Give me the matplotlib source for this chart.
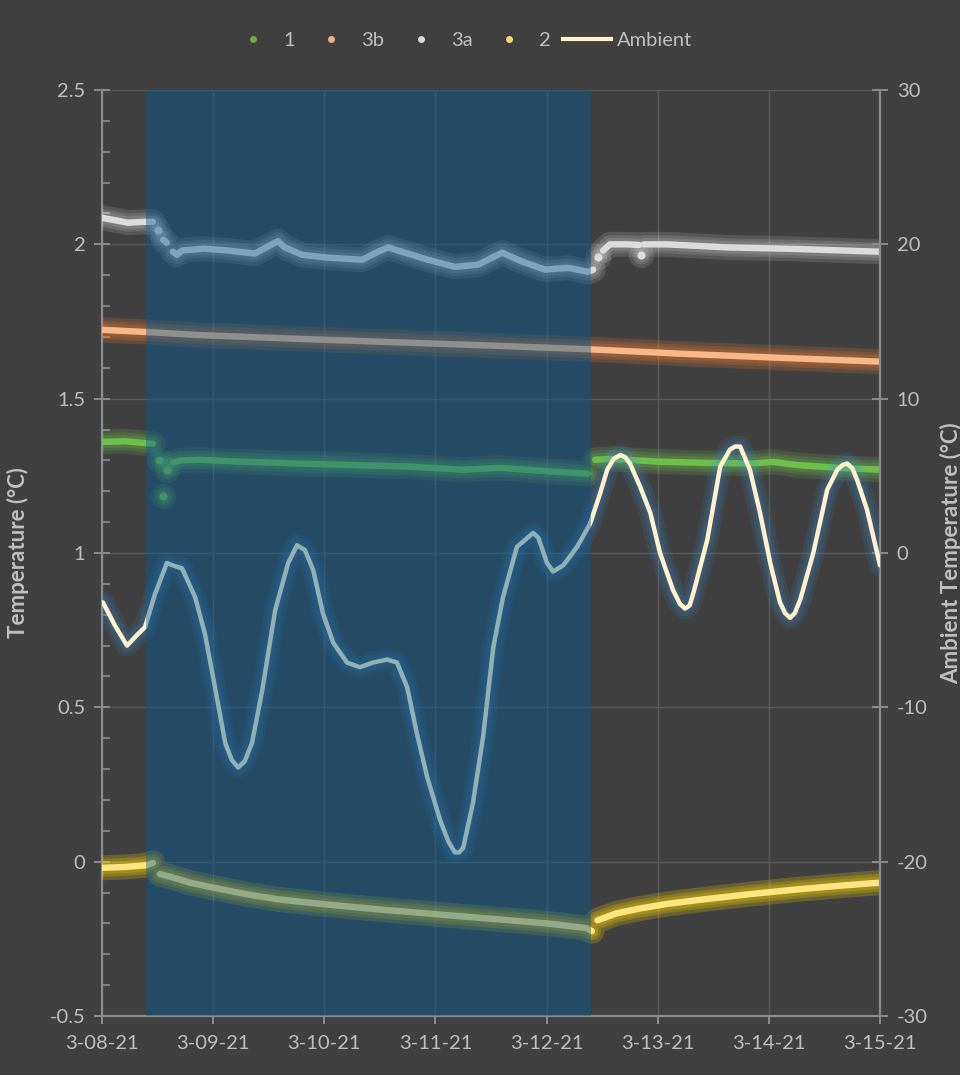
import numpy as np
import matplotlib
matplotlib.use("Agg")
from matplotlib import pyplot as plt
import matplotlib.dates as mdates
from matplotlib.lines import Line2D
from datetime import datetime

plt.rcParams['font.family'] = ['Lato', 'DejaVu Sans']
plt.rcParams['axes.unicode_minus'] = False

# hours after 3-08-21 00:00
s1_h = [0, 5, 9.3, 11.0, 12.3, 13.2, 14.0, 15.3, 17, 21, 30, 42, 54, 66, 78, 86, 96, 105,
        106.5, 110, 120, 130, 140, 145, 150, 160, 168]
s1_v = [1.360, 1.362, 1.356, 1.354, 1.302, 1.186, 1.270, 1.293, 1.300, 1.302, 1.296, 1.290,
        1.285, 1.280, 1.270, 1.276, 1.265, 1.257,
        1.302, 1.305, 1.296, 1.292, 1.290, 1.295, 1.285, 1.275, 1.270]

s3b_h = [0, 9.5, 21, 42, 63, 84, 105, 126, 147, 168]
s3b_v = [1.723, 1.716, 1.706, 1.694, 1.683, 1.672, 1.660, 1.645, 1.632, 1.620]

s3a_h = [0, 5.6, 9.3, 11.0, 12.1, 13.2, 14.0, 15.3, 16.2, 17.3, 22.2, 27.2, 33.0, 36.7, 38.0,
         39.5, 43.2, 48.8, 56.2, 59.6, 61.8, 65.4, 70.4, 76.2, 81.2, 86.4, 90.7, 95.7, 100.6,
         104.9, 106.1, 107.1, 108.2, 109.7, 113.4, 116.0, 116.4, 117.0, 122, 135, 150, 168]
s3a_v = [2.086, 2.070, 2.073, 2.073, 2.047, 2.015, 2.005, 1.976, 1.966, 1.980, 1.986, 1.980,
         1.970, 2.000, 2.010, 1.990, 1.966, 1.957, 1.950, 1.976, 1.990, 1.973, 1.950, 1.927,
         1.934, 1.973, 1.944, 1.918, 1.924, 1.911, 1.918, 1.960, 1.980, 2.000, 2.000, 1.998,
         1.966, 2.000, 2.000, 1.990, 1.985, 1.976]

s2_h = [0, 5, 9.5, 11, 12.5, 15, 19, 24, 31, 38, 48, 60, 72, 84, 96, 104.5, 105.8,
        107, 111, 116, 122, 130, 140, 150, 160, 168]
s2_v = [-0.020, -0.017, -0.012, -0.004, -0.040, -0.050, -0.068, -0.084, -0.105, -0.122,
        -0.138, -0.155, -0.170, -0.185, -0.200, -0.215, -0.225,
        -0.190, -0.168, -0.152, -0.137, -0.122, -0.105, -0.090, -0.077, -0.068]

amb_h = [0.2, 2.8, 5.4, 7.6, 9.3, 11.4, 14.0, 15.3, 17.3, 20.1,
         22.2, 24.4, 26.6, 28.0, 29.4, 30.8, 32.4, 34.6, 37.4, 40.2,
         42.1, 43.8, 45.6, 47.7, 49.9, 52.9, 55.7, 58.5, 61.6, 63.7,
         65.9, 68.0, 70.2, 73.0, 74.8, 76.2, 77.1, 78.0, 80.1, 82.3,
         84.5, 86.6, 89.6, 93.1, 94.2, 96.1, 97.4, 99.6, 102.6, 105.4,
         107.5, 109.1, 110.5, 111.9, 113.0, 114.0, 116.2, 118.4, 120.5, 123.3,
         124.8, 125.9, 126.9, 127.7, 130.7, 133.5, 135.6, 136.7, 137.8, 139.9,
         142.1, 144.3, 146.4, 147.5, 148.6, 149.6, 150.8, 153.6, 156.6, 158.8,
         159.9, 160.9, 162.0, 163.1, 165.2, 168.0]
amb_v = [-3.2, -4.7, -6.0, -5.3, -4.8, -2.7, -0.65, -0.8, -1.0, -2.85,
         -5.2, -8.7, -12.3, -13.4, -13.9, -13.5, -12.3, -8.9, -3.7, -0.65,
         0.5, 0.2, -1.1, -3.9, -5.8, -7.1, -7.4, -7.1, -6.9, -7.1,
         -8.7, -11.7, -14.5, -17.3, -18.7, -19.4, -19.4, -19.1, -16.2, -11.9,
         -6.1, -2.85, 0.4, 1.3, 1.0, -0.65, -1.2, -0.8, 0.4, 1.9,
         3.8, 5.4, 6.1, 6.35, 6.2, 5.8, 4.3, 2.6, 0.0, -2.4,
         -3.3, -3.6, -3.4, -2.6, 0.85, 5.6, 6.7, 6.9, 6.9, 5.4,
         2.6, -0.65, -3.2, -3.9, -4.2, -3.9, -3.0, 0.0, 4.1, 5.4,
         5.7, 5.8, 5.5, 4.7, 2.8, -0.8]

shade_h = [9.5, 105.6]

BG = '#404040'
TXT = '#bfbfbf'
AXC = '#8c8c8c'
BASE = mdates.date2num(datetime(2021, 3, 8))


def xs(h):
    return BASE + np.asarray(h, float) / 24.0


def breaks(h, v):
    # a reading that jumps away from its neighbour is drawn as a separate dot
    h = np.asarray(h, float)
    v = np.asarray(v, float)
    dv = np.abs(np.diff(v))
    return np.where((dv > 0.02) & (dv / np.diff(h) > 0.015))[0] + 1


def glow_series(ax, h, v, core, glow, lw=4.6, glow_a=0.13):
    cut = breaks(h, v)
    bx = np.insert(xs(h), cut, np.nan)
    bv = np.insert(np.asarray(v, float), cut, np.nan)
    # lone points (cut on both sides)
    n = len(v)
    left = np.zeros(n, bool)
    left[cut] = True
    left[0] = True
    right = np.zeros(n, bool)
    right[cut - 1] = True
    right[-1] = True
    lone = left & right
    lx = xs(h)[lone]
    lv = np.asarray(v, float)[lone]
    for w in (18, 13, 9):
        ax.plot(bx, bv, color=glow, lw=w, alpha=glow_a, solid_capstyle='round', zorder=3)
        ax.plot(lx, lv, 'o', color=glow, ms=w, alpha=glow_a, mew=0, zorder=3)
    ax.plot(bx, bv, color=core, lw=lw, solid_capstyle='round', solid_joinstyle='round', zorder=4)
    ax.plot(lx, lv, 'o', color=core, ms=lw + 1.2, mew=0, zorder=4)


fig = plt.figure(figsize=(9.6, 10.75), dpi=100, facecolor=BG)
ax = fig.add_axes([0.10625, 0.05488, 0.81042, 0.8614])
ax.set_facecolor(BG)
ax2 = ax.twinx()

glow_series(ax, s3b_h, s3b_v, '#f8b88a', '#ed7d31', glow_a=0.2)
glow_series(ax, s3a_h, s3a_v, '#dcdcdc', '#ffffff', glow_a=0.12)
glow_series(ax, s1_h, s1_v, '#6cc04a', '#7ed957', glow_a=0.15)
glow_series(ax, s2_h, s2_v, '#ffe680', '#ffd700', glow_a=0.22)

amb_x = xs(amb_h)
for w in (16, 11, 7):
    ax2.plot(amb_x, amb_v, color='#3d8fd6', lw=w, alpha=0.12, solid_capstyle='round',
             solid_joinstyle='round', zorder=3)
ax2.plot(amb_x, amb_v, color='#fff2cc', lw=3.2, solid_joinstyle='round',
         solid_capstyle='round', zorder=4)

ax2.axvspan(xs(shade_h[0]), xs(shade_h[1]), color='#045c96', alpha=0.43, lw=0, zorder=10)

ax.set_xlim(BASE, BASE + 7)
ax.set_ylim(-0.5, 2.5)
ax2.set_ylim(-30, 30)

ax.xaxis.set_major_locator(mdates.DayLocator())
ax.xaxis.set_major_formatter(plt.FuncFormatter(
    lambda x, p: (lambda d: f"{d.month}-{d.day:02d}-{d:%y}")(mdates.num2date(x))))
ax.set_yticks(np.arange(-0.5, 2.51, 0.5))
ax.set_yticklabels(['-0.5', '0', '0.5', '1', '1.5', '2', '2.5'])
ax.set_yticks(np.arange(-0.5, 2.51, 0.1), minor=True)
ax2.set_yticks(np.arange(-30, 31, 10))

ax.grid(True, which='major', color='#5a5a5a', lw=1, zorder=0)
ax.set_axisbelow(True)

for a in (ax, ax2):
    a.spines['top'].set_visible(False)
    for s in a.spines.values():
        s.set_color(AXC)
        s.set_linewidth(1.6)
ax.spines['right'].set_visible(False)
ax2.spines['left'].set_visible(False)
ax2.spines['bottom'].set_visible(False)

ax.tick_params(axis='x', colors=AXC, labelcolor=TXT, labelsize=14.5, direction='out',
               length=6, width=1.4, pad=8)
ax.tick_params(axis='y', which='major', colors=AXC, labelcolor=TXT, labelsize=14.5,
               direction='inout', length=12, width=1.4, pad=6)
ax.tick_params(axis='y', which='minor', colors=AXC, direction='in', length=6, width=1.2)
ax2.tick_params(axis='y', colors=AXC, labelcolor=TXT, labelsize=14.5, direction='inout',
                length=12, width=1.4, pad=6)

ax.set_ylabel('Temperature (°C)', color=TXT, fontsize=16, fontweight='bold')
ax.yaxis.set_label_coords(-0.094, 0.5)
ax2.set_ylabel('Ambient Temperature (°C)', color=TXT, fontsize=16, fontweight='bold',
               rotation=90)
ax2.yaxis.set_label_coords(1.077, 0.5)

handles = [
    Line2D([], [], ls='none', marker='o', ms=5, mew=0, color='#70ad47'),
    Line2D([], [], ls='none', marker='o', ms=5, mew=0, color='#f4b183'),
    Line2D([], [], ls='none', marker='o', ms=5, mew=0, color='#d9d9d9'),
    Line2D([], [], ls='none', marker='o', ms=5, mew=0, color='#ffd966'),
    Line2D([], [], color='#fff2cc', lw=3),
]
fig.legend(handles, ['1', '3b', '3a', '2', 'Ambient'], loc='center', ncol=5,
           bbox_to_anchor=(0.48, 0.962), frameon=False, fontsize=14.5, labelcolor=TXT,
           handlelength=2.4, handletextpad=0.3, columnspacing=0.6)

plt.savefig('out.png', dpi=100, facecolor=BG)
